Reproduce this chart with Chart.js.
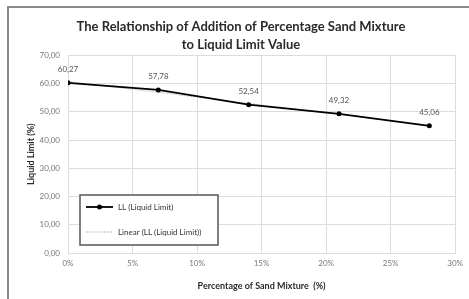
<!DOCTYPE html>
<html>
<head>
<meta charset="utf-8">
<script src="https://cdn.jsdelivr.net/npm/chart.js@4.4.1/dist/chart.umd.min.js"></script>
<style>
  body { margin: 0; background: #fff; }
  #wrap { position: absolute; left: 0; top: 0; width: 469px; height: 299px; }
  #frame { position: absolute; left: 7px; top: 6px; width: 470px; height: 300px;
           border-top: 2px solid #8a8a8a; border-left: 2px solid #8a8a8a; }
</style>
</head>
<body>
<div id="wrap">
  <canvas id="myChart" width="469" height="299"></canvas>
  <div id="frame"></div>
</div>
<script>
var sandPercent = [0, 7, 14, 21, 28];
var liquidLimit = [60.27, 57.78, 52.54, 49.32, 45.06];
// trend line end points (linear fit)
var trendX = [0, 28];
var trendY = [60.77, 45.22];

function comma(v) { return v.toFixed(2).replace('.', ','); }

var font = 'Lato, "Open Sans", sans-serif';

var pointLabels = {
    id: 'pointLabels',
    afterDatasetsDraw: function(chart) {
        var ctx = chart.ctx;
        var meta = chart.getDatasetMeta(0);
        ctx.save();
        ctx.font = '8px ' + font;
        ctx.fillStyle = '#555';
        ctx.textAlign = 'center';
        ctx.textBaseline = 'middle';
        meta.data.forEach(function(pt, i) {
            ctx.fillText(comma(liquidLimit[i]), pt.x, pt.y - 13);
        });
        ctx.restore();
    }
};

var boxLegend = {
    id: 'boxLegend',
    afterDraw: function(chart) {
        var ctx = chart.ctx;
        var ds = chart.data.datasets;
        ctx.save();
        ctx.fillStyle = '#fff';
        ctx.fillRect(80, 195, 138, 50);
        ctx.strokeStyle = '#555';
        ctx.lineWidth = 1.5;
        ctx.strokeRect(80, 195, 138, 50);
        // entry 1
        ctx.strokeStyle = '#000';
        ctx.lineWidth = 1.8;
        ctx.beginPath(); ctx.moveTo(86, 207); ctx.lineTo(113, 207); ctx.stroke();
        ctx.fillStyle = '#000';
        ctx.beginPath(); ctx.arc(99.5, 207, 2.5, 0, Math.PI * 2); ctx.fill();
        // entry 2
        ctx.strokeStyle = '#bbb';
        ctx.lineWidth = 1;
        ctx.setLineDash([2, 1]);
        ctx.beginPath(); ctx.moveTo(86, 232); ctx.lineTo(113, 232); ctx.stroke();
        ctx.setLineDash([]);
        ctx.font = '8px ' + font;
        ctx.fillStyle = '#333';
        ctx.textBaseline = 'middle';
        ctx.fillText(ds[0].label, 118, 207);
        ctx.fillText(ds[1].label, 118, 232);
        ctx.restore();
    }
};

var ctx = document.getElementById('myChart').getContext('2d');

var myChart = new Chart(ctx, {
    type: 'line',
    data: {
        datasets: [{
            label: 'LL (Liquid Limit)',
            data: sandPercent.map(function(x, i) { return {x: x, y: liquidLimit[i]}; }),
            borderColor: '#000',
            backgroundColor: '#000',
            borderWidth: 1.8,
            pointRadius: 2.5,
            pointBorderWidth: 0,
            tension: 0
        }, {
            label: 'Linear (LL (Liquid Limit))',
            data: trendX.map(function(x, i) { return {x: x, y: trendY[i]}; }),
            borderColor: '#c8c8c8',
            borderWidth: 1,
            borderDash: [2, 1],
            pointRadius: 0
        }]
    },
    options: {
        responsive: false,
        animation: false,
        layout: { padding: { left: 22, right: 9, top: 18, bottom: 4 } },
        plugins: {
            legend: { display: false },
            tooltip: { enabled: false },
            title: {
                display: true,
                text: ['The Relationship of Addition of Percentage Sand Mixture', 'to Liquid Limit Value'],
                color: '#2a2a2a',
                font: { family: font, size: 13, weight: 'bold', lineHeight: 1.4 },
                padding: { top: 0, bottom: 1 }
            }
        },
        scales: {
            x: {
                type: 'linear',
                min: 0,
                max: 30,
                ticks: {
                    stepSize: 5,
                    color: '#777',
                    font: { family: font, size: 8 },
                    padding: 6,
                    callback: function(v) { return v + '%'; }
                },
                grid: { color: '#dcdcdc', drawTicks: false },
                border: { color: '#dcdcdc' },
                title: {
                    display: true,
                    text: 'Percentage of Sand Mixture  (%)',
                    color: '#2a2a2a',
                    font: { family: font, size: 9, weight: 'bold' },
                    padding: { top: 6 }
                },
                afterFit: function(s) { s.height = 42; }
            },
            y: {
                min: 0,
                max: 70,
                ticks: {
                    stepSize: 10,
                    color: '#777',
                    font: { family: font, size: 8 },
                    padding: 8,
                    callback: function(v) { return comma(v); }
                },
                grid: { color: '#dcdcdc', drawTicks: false },
                border: { color: '#dcdcdc' },
                title: {
                    display: true,
                    text: 'Liquid Limit (%)',
                    color: '#2a2a2a',
                    font: { family: font, size: 9, weight: 'bold' },
                    padding: { bottom: 4 }
                },
                afterFit: function(s) { s.width = 46; }
            }
        }
    },
    plugins: [pointLabels, boxLegend]
});
</script>
</body>
</html>
